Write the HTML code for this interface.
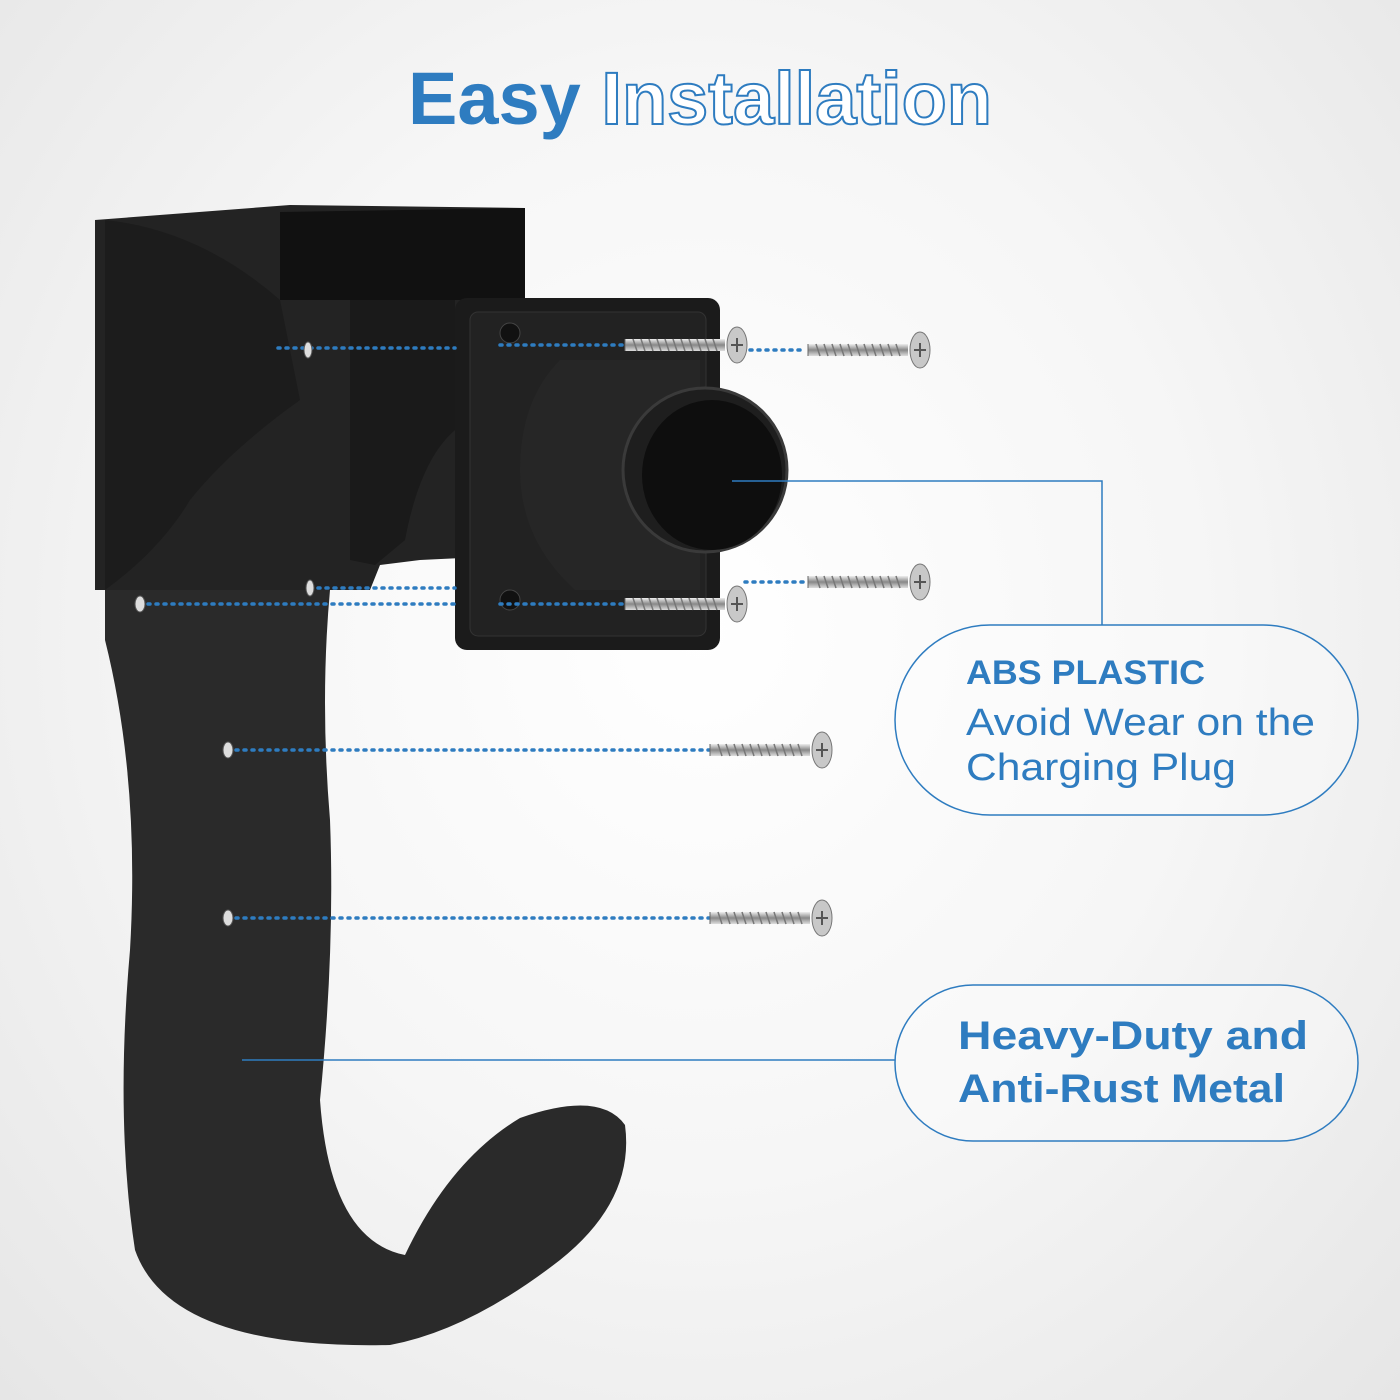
<!DOCTYPE html>
<html><head><meta charset="utf-8"><style>
html,body{margin:0;padding:0}
body{width:1400px;height:1400px;overflow:hidden;background:radial-gradient(ellipse at 50% 45%,#ffffff 0%,#f6f6f6 50%,#e6e6e6 100%);font-family:"Liberation Sans",sans-serif}
svg{position:absolute;left:0;top:0}
</style></head><body>
<svg width="1400" height="1400" viewBox="0 0 1400 1400">
<defs>
<linearGradient id="scr" x1="0" y1="0" x2="0" y2="1"><stop offset="0" stop-color="#eee"/><stop offset="0.5" stop-color="#888"/><stop offset="1" stop-color="#ddd"/></linearGradient>
<g id="screw"><rect x="0" y="-6" width="100" height="12" fill="url(#scr)"/><path d="M0 -6 L0 6" stroke="#666"/><g stroke="#777" stroke-width="1.5"><path d="M8 -6 l4 12 M16 -6 l4 12 M24 -6 l4 12 M32 -6 l4 12 M40 -6 l4 12 M48 -6 l4 12 M56 -6 l4 12 M64 -6 l4 12 M72 -6 l4 12 M80 -6 l4 12 M88 -6 l4 12"/></g><ellipse cx="112" cy="0" rx="10" ry="18" fill="#c8c8c8" stroke="#777"/><path d="M106 0 h12 M112 -7 v14" stroke="#555" stroke-width="2"/></g>
</defs>
<text x="700" y="124" text-anchor="middle" font-family="Liberation Sans,sans-serif" font-weight="bold" font-size="74" fill="#2e7cc0" textLength="584" lengthAdjust="spacingAndGlyphs"><tspan>Easy </tspan><tspan fill="#fff" stroke="#2e7cc0" stroke-width="2">Installation</tspan></text>
<!-- top box -->
<path d="M95 220 L290 205 L525 208 L525 555 L420 560 L380 565 L370 590 L95 590 Z" fill="#232323"/>
<path d="M280 212 L525 208 L525 300 L280 300 Z" fill="#111"/>
<path d="M350 300 L455 300 L455 430 Q420 460 405 540 L375 565 L350 560 Z" fill="#1a1a1a"/>
<!-- hook -->
<path d="M105 590 L330 590 Q320 700 330 820 Q335 950 320 1100 Q330 1240 405 1255 Q450 1160 520 1118 Q600 1090 625 1125 Q635 1200 560 1260 Q470 1330 390 1345 Q170 1350 135 1250 Q115 1120 130 950 Q140 780 105 640 Z" fill="#2a2a2a"/>
<path d="M105 220 Q200 230 280 300 L300 400 Q230 450 190 500 Q160 550 105 590 Z" fill="#1c1c1c"/>
<!-- plate -->
<rect x="455" y="298" width="265" height="352" rx="12" fill="#1b1b1b"/>
<rect x="470" y="312" width="236" height="324" rx="8" fill="#222" stroke="#333"/>
<circle cx="510" cy="333" r="10" fill="#111" stroke="#444"/><circle cx="510" cy="600" r="10" fill="#111" stroke="#444"/>
<path d="M560 360 L700 360 L700 590 L575 590 Q520 540 520 470 Q520 400 560 360 Z" fill="#262626"/>
<circle cx="705" cy="470" r="82" fill="#1e1e1e" stroke="#3a3a3a" stroke-width="3"/>
<ellipse cx="712" cy="475" rx="70" ry="75" fill="#0e0e0e"/>
<!-- dotted lines -->
<g stroke="#2e7cc0" stroke-width="3.5" stroke-dasharray="2 6" stroke-linecap="round" fill="none">
<path d="M278 348 H455 M500 345 H625 M750 350 H805"/>
<path d="M140 604 H455 M500 604 H625"/>
<path d="M310 588 H455 M745 582 H805"/>
<path d="M228 750 H710"/>
<path d="M228 918 H710"/>
</g>
<g fill="#ddd" stroke="#555"><ellipse cx="308" cy="350" rx="4" ry="8"/><ellipse cx="140" cy="604" rx="5" ry="8"/><ellipse cx="310" cy="588" rx="4" ry="8"/><ellipse cx="228" cy="750" rx="5" ry="8"/><ellipse cx="228" cy="918" rx="5" ry="8"/></g>
<use href="#screw" x="625" y="345"/>
<use href="#screw" x="625" y="604"/>
<use href="#screw" x="808" y="350"/>
<use href="#screw" x="808" y="582"/>
<use href="#screw" x="710" y="750"/>
<use href="#screw" x="710" y="918"/>
<!-- leaders -->
<g stroke="#2e7cc0" stroke-width="1.5" fill="none">
<path d="M732 481 H1102 V625"/>
<path d="M242 1060 H895"/>
<rect x="895" y="625" width="463" height="190" rx="95" fill="rgba(255,255,255,0.3)"/>
<rect x="895" y="985" width="463" height="156" rx="78" fill="rgba(255,255,255,0.3)"/>
</g>
<g font-family="Liberation Sans,sans-serif" fill="#2e7cc0">
<text x="966" y="684" font-weight="bold" font-size="34" textLength="239" lengthAdjust="spacingAndGlyphs">ABS PLASTIC</text>
<text x="966" y="735" font-size="38" textLength="349" lengthAdjust="spacingAndGlyphs">Avoid Wear on the</text>
<text x="966" y="780" font-size="38" textLength="270" lengthAdjust="spacingAndGlyphs">Charging Plug</text>
<text x="958" y="1049" font-weight="bold" font-size="40" textLength="350" lengthAdjust="spacingAndGlyphs">Heavy-Duty and</text>
<text x="958" y="1102" font-weight="bold" font-size="40" textLength="327" lengthAdjust="spacingAndGlyphs">Anti-Rust Metal</text>
</g>
</svg>
</body></html>
